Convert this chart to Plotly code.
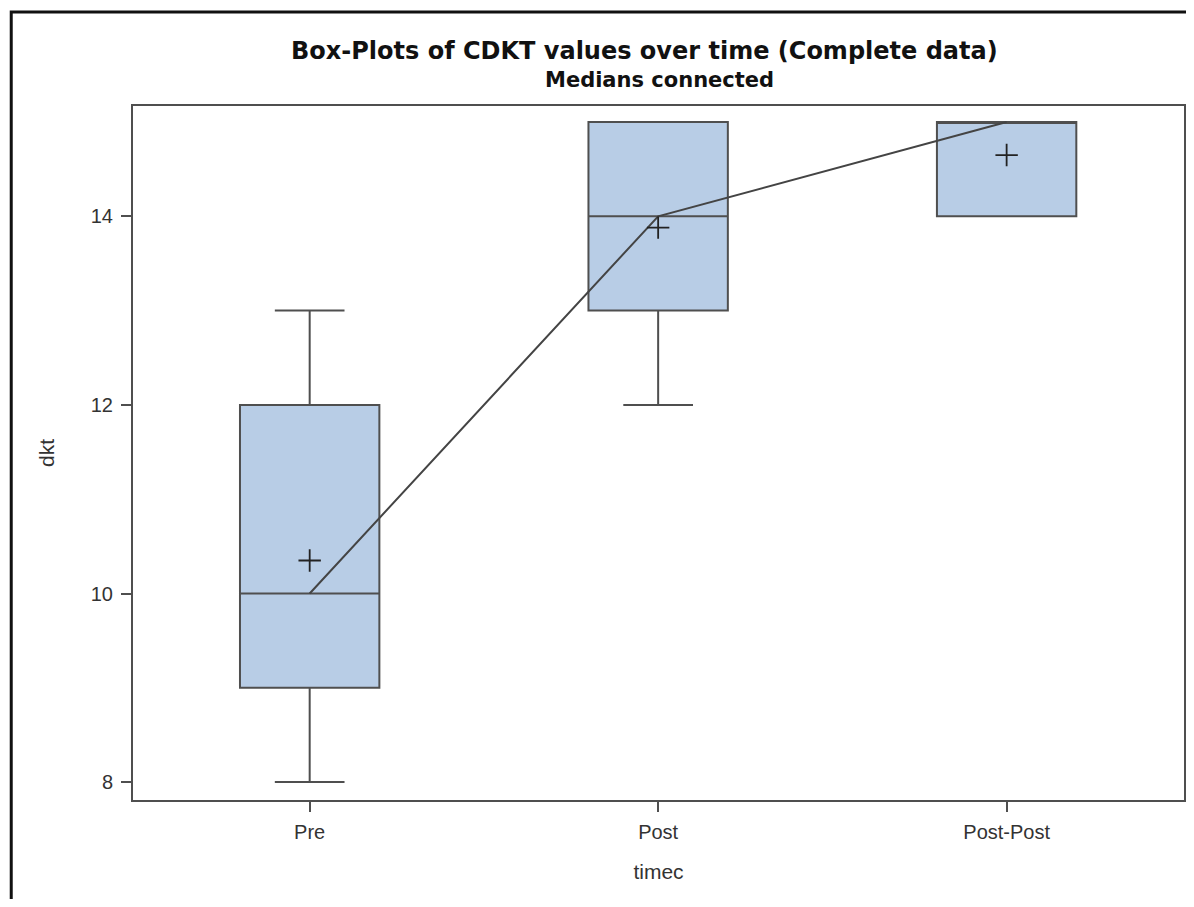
import plotly.graph_objects as go

categories = ["Pre", "Post", "Post-Post"]
q1_vals = [9, 13, 14]
median_vals = [10, 14, 15]
q3_vals = [12, 15, 15]
low_vals = [8, 12, 14]
high_vals = [13, 15, 15]
mean_vals = [10.35, 13.88, 14.65]
y_ticks = [8, 10, 12, 14]

OFF = 8  # default body margin of the html page
W, H = 1194 - 2 * OFF, 907 - 2 * OFF
# reference pixel geometry of the plot area
L, T, R, B = 133, 106, 1186, 800
ml, mt = L - OFF, T - OFF
mr = W - (R - OFF)
mb = H - (B - OFF)
pw, ph = W - ml - mr, H - mt - mb

def px_x(p):
    return (p - OFF - ml) / pw

def px_y(p):
    return (H - mb - (p - OFF)) / ph

fig = go.Figure()
fig.add_trace(go.Box(
    x=categories, q1=q1_vals, median=median_vals, q3=q3_vals,
    lowerfence=low_vals, upperfence=high_vals,
    fillcolor="#b8cde6", line=dict(color="#4f4f4f", width=2),
    width=0.4, whiskerwidth=0.5, boxpoints=False, hoverinfo="skip",
    showlegend=False,
))
fig.add_trace(go.Scatter(
    x=categories, y=median_vals, mode="lines",
    line=dict(color="#444444", width=2), showlegend=False, hoverinfo="skip",
))
fig.add_trace(go.Scatter(
    x=categories, y=mean_vals, mode="markers",
    marker=dict(symbol="cross-thin", size=16, line=dict(color="#222222", width=1.8)),
    showlegend=False, hoverinfo="skip",
))

font_fam = "Liberation Sans, Arial, sans-serif"
title_fam = "DejaVu Sans, Verdana, sans-serif"
fig.update_layout(
    width=W, height=H,
    margin=dict(l=ml, r=mr, t=mt, b=mb, pad=0),
    paper_bgcolor="white", plot_bgcolor="white",
    font=dict(family=font_fam, color="#333333", size=20),
    xaxis=dict(
        type="category", range=[-0.507, 2.509],
        showline=True, linecolor="#4f4f4f", linewidth=2, mirror=True,
        showgrid=False, zeroline=False,
        ticks="outside", ticklen=10, tickwidth=2, tickcolor="#4f4f4f",
        ticklabelstandoff=3,
        tickfont=dict(size=20, color="#333333"),
        title=dict(text="timec", font=dict(size=21, color="#333333"), standoff=22),
    ),
    yaxis=dict(
        range=[7.81, 15.17], tickvals=y_ticks,
        showline=True, linecolor="#4f4f4f", linewidth=2, mirror=True,
        showgrid=False, zeroline=False,
        ticks="outside", ticklen=10, tickwidth=2, tickcolor="#4f4f4f",
        ticklabelstandoff=4,
        tickfont=dict(size=20, color="#333333"),
        title=dict(text="dkt", font=dict(size=21, color="#333333"), standoff=30),
    ),
    annotations=[
        dict(text="<b>Box-Plots of CDKT values over time (Complete data)</b>",
             xref="paper", yref="paper", x=px_x(645), y=px_y(51),
             xanchor="center", yanchor="middle", showarrow=False,
             font=dict(size=24, color="#111111", family=title_fam)),
        dict(text="<b>Medians connected</b>",
             xref="paper", yref="paper", x=px_x(661), y=px_y(80),
             xanchor="center", yanchor="middle", showarrow=False,
             font=dict(size=21, color="#111111", family=title_fam)),
    ],
    shapes=[
        dict(type="path", xref="paper", yref="paper",
             path=f"M {px_x(11)} {px_y(930)} L {px_x(11)} {px_y(12)} L {px_x(1220)} {px_y(12)}",
             line=dict(color="#111111", width=3)),
    ],
)

fig.write_html("out.html")
